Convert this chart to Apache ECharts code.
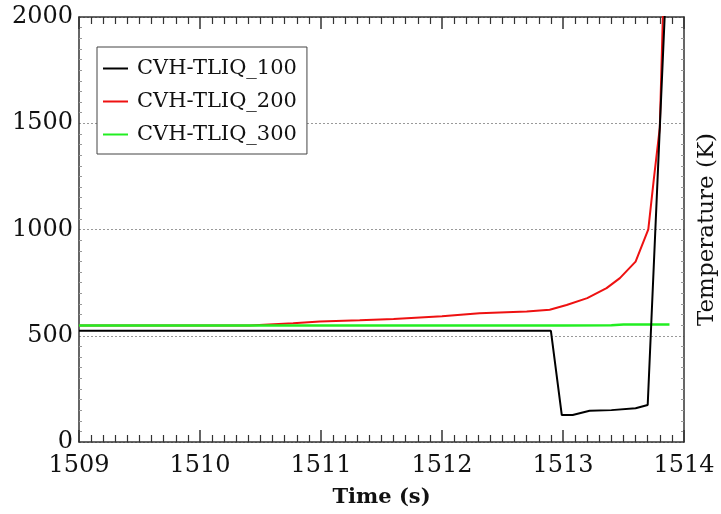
<!DOCTYPE html>
<html>
<head>
<meta charset="utf-8">
<script src="https://cdn.jsdelivr.net/npm/echarts@6/dist/echarts.min.js"></script>
<style>html,body{margin:0;padding:0;background:#fff;}#c{width:721px;height:514px;}</style>
</head>
<body>
<div id="c"></div>
<script>
// Data
const seriesNames = ['CVH-TLIQ_100', 'CVH-TLIQ_200', 'CVH-TLIQ_300'];
const t100 = [1509, 1512.90, 1512.99, 1513.08, 1513.22, 1513.40, 1513.60, 1513.70, 1513.85];
const v100 = [523, 523, 127, 127, 147, 150, 159, 174, 2130];
const t200 = [1509, 1510.41, 1510.77, 1510.99, 1511.32, 1511.60, 1512.00, 1512.31, 1512.70, 1512.89, 1513.03, 1513.20, 1513.36, 1513.47, 1513.60, 1513.705, 1513.75, 1513.80, 1513.83];
const v200 = [548, 548, 559, 567, 573, 579, 592, 606, 614, 622, 645, 677, 724, 771, 849, 1001, 1234, 1480, 2100];
const t300 = [1509, 1513.00, 1513.40, 1513.50, 1513.88];
const v300 = [548, 548, 549, 553, 553];
const xTicks = { min: 1509, max: 1514, interval: 1 };
const yTicks = { min: 0, max: 2000, interval: 500 };
const colors = ['#000000', '#ee1111', '#22ee22'];

const zip = (t, v) => t.map((x, i) => [x, v[i]]);
const serif = 'DejaVu Serif';
const plain = v => String(v);

const baseX = {
  type: 'value', min: xTicks.min, max: xTicks.max, interval: xTicks.interval,
  axisLine: { show: true, onZero: false, lineStyle: { color: '#333', width: 1.5 } },
  axisTick: { show: true, inside: true, length: 12, lineStyle: { color: '#333', width: 1.5 } },
  minorTick: { show: true, splitNumber: 10, length: 7, lineStyle: { color: '#333', width: 1.2 } },
  splitLine: { show: false }
};
const baseY = {
  type: 'value', min: yTicks.min, max: yTicks.max, interval: yTicks.interval,
  axisLine: { show: true, onZero: false, lineStyle: { color: '#333', width: 1.5 } },
  axisTick: { show: false, inside: true },
  minorTick: { show: true, splitNumber: 10, length: 3, lineStyle: { color: '#999', width: 1 } },
  splitLine: { show: false }
};

const chart = echarts.init(document.getElementById('c'), null, { renderer: 'canvas' });
chart.setOption({
  animation: false,
  backgroundColor: '#fff',
  grid: { left: 79, right: 37, top: 17, bottom: 72, containLabel: false, outerBoundsMode: 'none' },
  legend: {
    orient: 'vertical', left: 97, top: 47,
    data: seriesNames,
    icon: 'rect', itemWidth: 25, itemHeight: 2, itemGap: 12,
    padding: [11, 10, 9, 6],
    borderColor: '#444', borderWidth: 1, backgroundColor: '#fff',
    textStyle: { fontFamily: serif, fontSize: 21, color: '#111', padding: [0, 0, 0, 4] }
  },
  xAxis: [
    Object.assign({}, baseX, {
      position: 'bottom',
      name: 'Time (s)', nameLocation: 'middle', nameGap: 45,
      nameTextStyle: { fontFamily: serif, fontSize: 21, fontWeight: 'bold', color: '#111' },
      axisLabel: { fontFamily: serif, fontSize: 24, color: '#111', margin: 12, formatter: plain }
    }),
    Object.assign({}, baseX, { position: 'top', axisLabel: { show: false } })
  ],
  yAxis: [
    Object.assign({}, baseY, {
      position: 'left',
      axisLabel: { fontFamily: serif, fontSize: 24, color: '#111', margin: 6, formatter: plain },
      splitLine: { show: true, lineStyle: { color: '#999', type: [2, 2], width: 1 } }
    }),
    Object.assign({}, baseY, {
      position: 'right',
      axisLabel: { show: false },
      name: 'Temperature (K)', nameLocation: 'middle', nameGap: 12, nameRotate: 90,
      nameTextStyle: { fontFamily: serif, fontSize: 23, color: '#111' }
    })
  ],
  series: [
    { name: seriesNames[0], type: 'line', data: zip(t100, v100), color: colors[0], showSymbol: false, lineStyle: { width: 2, color: colors[0] }, z: 4 },
    { name: seriesNames[1], type: 'line', data: zip(t200, v200), color: colors[1], showSymbol: false, lineStyle: { width: 2, color: colors[1] }, z: 2 },
    { name: seriesNames[2], type: 'line', data: zip(t300, v300), color: colors[2], showSymbol: false, lineStyle: { width: 2.5, color: colors[2] }, z: 3 }
  ]
});
</script>
</body>
</html>
